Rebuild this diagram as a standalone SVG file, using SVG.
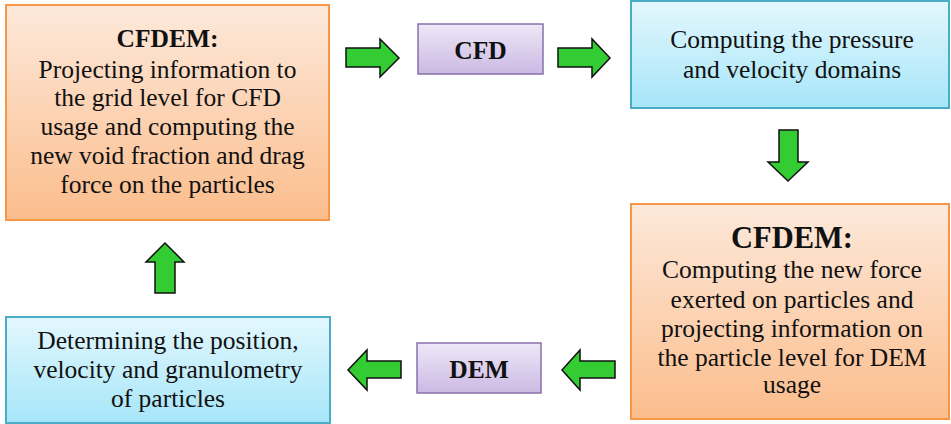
<svg xmlns="http://www.w3.org/2000/svg" width="951" height="424" viewBox="0 0 951 424">
<defs>
<linearGradient id="gO" x1="0" y1="0" x2="0" y2="1"><stop offset="0" stop-color="#fde9db"/><stop offset="1" stop-color="#fbbd8c"/></linearGradient>
<linearGradient id="gB" x1="0" y1="0" x2="0" y2="1"><stop offset="0" stop-color="#e3f7fd"/><stop offset="1" stop-color="#a6e6f9"/></linearGradient>
<linearGradient id="gP" x1="0" y1="0" x2="0" y2="1"><stop offset="0" stop-color="#eee8f7"/><stop offset="1" stop-color="#cbb9e3"/></linearGradient>
</defs>
<style>
.o{fill:url(#gO);stroke:#f79646;stroke-width:2}
.b{fill:url(#gB);stroke:#4bacc6;stroke-width:2}
.p{fill:url(#gP);stroke:#8a70aa;stroke-width:1.5}
.t{font-family:"Liberation Serif","Times New Roman",serif;font-size:25.5px;fill:#111;text-anchor:middle}
.h{font-weight:bold}
.a{fill:#33cc33;stroke:#111;stroke-width:1.5;stroke-linejoin:miter}
</style>
<g id="cfdem1">
<rect class="o" x="6" y="5" width="323" height="215"/>
<text class="t" x="167.5" y="47" font-weight="bold" font-size="25.5">CFDEM:</text>
<text class="t" x="167.5" y="78">Projecting information to</text>
<text class="t" x="167.5" y="106">the grid level for CFD</text>
<text class="t" x="167.5" y="135">usage and computing the</text>
<text class="t" x="167.5" y="164">new void fraction and drag</text>
<text class="t" x="167.5" y="193">force on the particles</text>
</g>
<g id="cfd">
<rect class="p" x="418" y="24" width="125" height="50"/>
<text class="t h" x="480.5" y="59">CFD</text>
</g>
<g id="pressure">
<rect class="b" x="631" y="1" width="318" height="107"/>
<text class="t" x="792" y="48">Computing the pressure</text>
<text class="t" x="792" y="78">and velocity domains</text>
</g>
<g id="cfdem2">
<rect class="o" x="631" y="204" width="318" height="215"/>
<text class="t h" x="792" y="248" style="font-size:30.5px">CFDEM:</text>
<text class="t" x="792" y="278">Computing the new force</text>
<text class="t" x="792" y="308">exerted on particles and</text>
<text class="t" x="792" y="337">projecting information on</text>
<text class="t" x="792" y="366">the particle level for DEM</text>
<text class="t" x="792" y="393">usage</text>
</g>
<g id="dem">
<rect class="p" x="417" y="343" width="124" height="50"/>
<text class="t h" x="479" y="378">DEM</text>
</g>
<g id="determining">
<rect class="b" x="6" y="317" width="324" height="106"/>
<text class="t" x="168" y="349">Determining the position,</text>
<text class="t" x="168" y="378">velocity and granulometry</text>
<text class="t" x="168" y="407">of particles</text>
</g>
<g id="connectors">
<polygon class="a" points="346,48 380,48 380,39 399,58 380,77 380,67 346,67"/>
<polygon class="a" points="558,48 592,48 592,39 610,58 592,77 592,67 558,67"/>
<polygon class="a" points="779,130 798,130 798,162 808,162 788,181 768,162 779,162"/>
<polygon class="a" points="615,361 580,361 580,350 562,370 580,390 580,378 615,378"/>
<polygon class="a" points="401,361 367,361 367,350 348,370 367,390 367,378 401,378"/>
<polygon class="a" points="155,293 175,293 175,262 184,262 165,243 146,262 155,262"/>
</g>
</svg>
